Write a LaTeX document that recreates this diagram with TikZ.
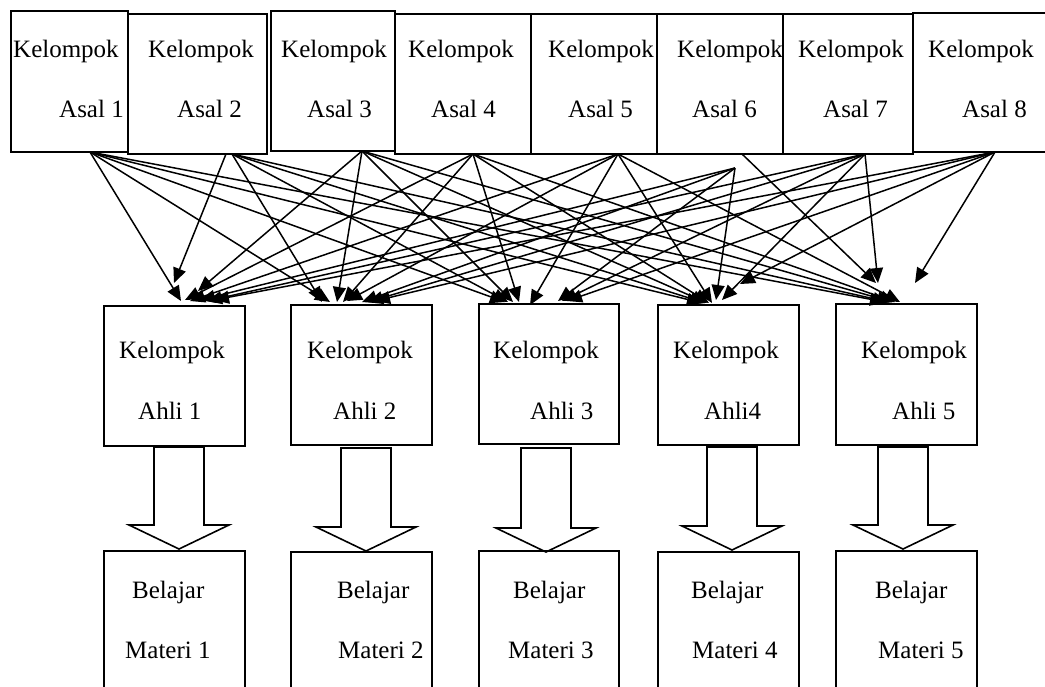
\documentclass[tikz,border=0pt]{standalone}
\usepackage{fontspec}
\setmainfont{Liberation Serif}
\usetikzlibrary{arrows.meta}
\begin{document}
\begin{tikzpicture}[x=1pt,y=-1pt,
  box/.style={draw=black,line width=1.6pt,inner sep=0pt},
  openbox/.style={draw=none,inner sep=0pt},
  lbl/.style={anchor=base west,inner sep=0pt,font=\fontsize{25}{30}\selectfont},
  conn/.style={line width=1.5pt,-{Triangle[length=15pt,width=13pt]}},
  blockarrow/.style={draw=black,line width=1.6pt,fill=white,line join=miter}]
\useasboundingbox (0,0) rectangle (1045,686);
\fill[white] (0,0) rectangle (1045,686);
% top boxes
\foreach \n/\xa/\ya/\xb/\yb in {1/11/11/128/152,2/128/14/267/154,3/271/11/395/151,4/395/14/531/154,5/531/14/657/154,6/657/14/783/154,7/783/14/913/154}{
  \node[box,minimum width={(\xb-\xa)*1pt},minimum height={(\yb-\ya)*1pt}] (t\n) at ({(\xa+\xb)/2},{(\ya+\yb)/2}) {};
}
\node[openbox,minimum width=132pt,minimum height=139pt] (t8) at (979,82.5) {};
\draw[line width=1.6pt] (1046,13) -- (913,13) -- (913,152) -- (1046,152);
% top labels
\foreach \n/\kx/\ax in {1/13/59,2/148/177,3/281/307,4/408/431,5/548/568,6/677/692,7/798/823,8/928/962}{
  \node[lbl] (tk\n) at (\kx,57) {Kelompok};
  \node[lbl] (ta\n) at (\ax,117) {Asal \n};
}
% expert boxes
\foreach \n/\xa/\ya/\xb/\yb in {1/104/306/245/446,2/291/305/432/445,3/479/304/619/444,4/658/305/799/445,5/836/304/977/445}{
  \node[box,minimum width={(\xb-\xa)*1pt},minimum height={(\yb-\ya)*1pt}] (a\n) at ({(\xa+\xb)/2},{(\ya+\yb)/2}) {};
}
\foreach \n/\kx/\ax/\txt in {1/119/138/Ahli 1,2/307/333/Ahli 2,3/493/530/Ahli 3,4/673/704/Ahli4,5/861/892/Ahli 5}{
  \node[lbl] (ak\n) at (\kx,358) {Kelompok};
  \node[lbl] (aa\n) at (\ax,419) {\txt};
}
% block arrows
\foreach \n/\cx/\ty/\tip in {1/179/447/549,2/366/448/551,3/546/448/552,4/732/447/550,5/903/447/549}{
  \draw[blockarrow] (\cx-25,\ty) -- (\cx+25,\ty) -- (\cx+25,\tip-24) -- (\cx+50,\tip-24) -- (\cx,\tip) -- (\cx-50,\tip-24) -- (\cx-25,\tip-24) -- cycle;
}
% learning boxes (cut at the bottom)
\foreach \n/\xa/\ya/\xb in {1/104/551/245,2/291/552/432,3/479/551/619,4/658/552/799,5/836/551/977}{
  \node[openbox,minimum width={(\xb-\xa)*1pt},minimum height={(686-\ya)*1pt}] (b\n) at ({(\xa+\xb)/2},{(\ya+686)/2}) {};
  \draw[line width=1.6pt] (\xa,688) -- (\xa,\ya) -- (\xb,\ya) -- (\xb,688);
}
\foreach \n/\bx/\mx in {1/132/125,2/337/338,3/513/508,4/691/692,5/875/878}{
  \node[lbl] (bb\n) at (\bx,598) {Belajar};
  \node[lbl] (bm\n) at (\mx,658) {Materi \n};
}
% arrow start points
\coordinate (s1) at (90,152);
\coordinate (s2a) at (226,154);
\coordinate (s2) at (232,154);
\coordinate (s3) at (362,151);
\coordinate (s4) at (473,154);
\coordinate (s5) at (618,154);
\coordinate (s6) at (742,154);
\coordinate (s6b) at (735,168);
\coordinate (s7) at (865,154);
\coordinate (s8) at (995,152);
% arrows
\foreach \s/\e/\x/\y in {
  s1/e11/181/301, s2a/e21/174/283, s3/e31/198/291, s4/e41/185/300, s5/e51/190/301, s6b/e61/200/300, s7/e71/207/301, s8/e81/214/300,
  s1/e12/330/302, s2/e22/322/302, s3/e32/337/302, s4/e42/343/302, s5/e52/347/301, s6b/e62/362/302, s7/e72/368/302, s8/e82/375/301,
  s1/e13/505/302, s2/e23/508/302, s3/e33/513/302, s4/e43/519/302, s5/e53/530/305, s6b/e63/558/301, s7/e73/562/301, s8/e83/567/301,
  s1/e14/702/303, s2/e24/705/303, s3/e34/707/303, s4/e44/709/303, s5/e54/712/303, s6b/e64/716/300, s7/e74/722/300, s8/e84/740/284,
  s1/e15/885/302, s2/e25/888/302, s3/e35/892/302, s4/e45/895/302, s5/e55/900/302, s6/e65/876/283, s7/e75/878/283, s8/e85/915/283}{
  \coordinate (\e) at (\x,\y);
  \draw[conn] (\s) -- (\e);
}
\end{tikzpicture}
\end{document}
